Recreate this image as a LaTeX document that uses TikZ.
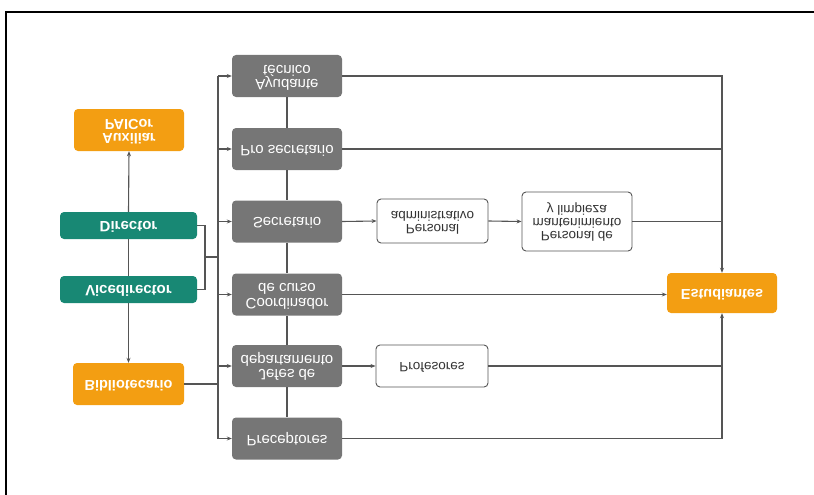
\documentclass[tikz,border=0pt]{standalone}
\usepackage{fontspec}
\setmainfont{Liberation Sans}
\usepackage{graphicx}
\usetikzlibrary{arrows.meta}
\definecolor{orng}{RGB}{243,158,18}
\definecolor{tealc}{RGB}{24,136,116}
\definecolor{grayb}{RGB}{118,118,118}
\definecolor{linec}{RGB}{85,85,85}
\newcommand{\fl}[1]{\scalebox{1}[-1]{\renewcommand{\arraystretch}{0.75}\begin{tabular}{@{}c@{}}#1\end{tabular}}}
\tikzset{
  bx/.style={rectangle, rounded corners=4pt, inner sep=0pt, align=center},
  orbox/.style={bx, fill=orng, text=white, font=\fontsize{14.5}{16}\selectfont\bfseries, minimum width=110pt, minimum height=42pt},
  tlbox/.style={bx, fill=tealc, text=white, font=\fontsize{15}{16}\selectfont\bfseries, minimum width=137pt, minimum height=27pt},
  grbox/.style={bx, fill=grayb, text=white, font=\fontsize{15}{17}\selectfont, minimum width=110pt, minimum height=42pt},
  whbox/.style={bx, fill=white, draw=linec, line width=0.9pt, text=black!80, font=\fontsize{13.5}{15}\selectfont, minimum width=111pt},
  ln/.style={draw=linec, line width=1.1pt},
  arr/.style={ln, -{Stealth[length=5pt,width=4pt]}}
}
\begin{document}
\begin{tikzpicture}[x=1pt,y=-1pt]
\useasboundingbox (0,0) rectangle (814,495);
\draw[line width=2pt] (6,495) -- (6,12) -- (814,12);
% left column
\node[orbox] (aux) at (129,130) {\fl{Auxiliar\\PAICor}};
\node[tlbox] (dir) at (128.5,225.5) {\fl{Director}};
\node[tlbox] (vice) at (128.5,289.5) {\fl{Vicedirector}};
\node[orbox, minimum width=111pt] (bib) at (128.5,384) {\fl{Bibliotecario}};
% gray column
\node[grbox] (g1) at (287,76) {\fl{Ayudante\\técnico}};
\node[grbox] (g2) at (287,149) {\fl{Pro secretario}};
\node[grbox] (g3) at (287,221.5) {\fl{Secretario}};
\node[grbox] (g4) at (287,294.5) {\fl{Coordinador\\de curso}};
\node[grbox] (g5) at (287,366) {\fl{Jefes de\\departamento}};
\node[grbox] (g6) at (287,438.5) {\fl{Preceptores}};
% white boxes
\node[whbox, minimum height=44pt] (padm) at (432.5,221) {\fl{Personal\\administrativo}};
\node[whbox, minimum width=110pt, minimum height=59pt] (pmant) at (577,221.5) {\fl{Personal de\\mantenimiento\\y limpieza}};
\node[whbox, minimum width=112pt, minimum height=42pt] (prof) at (432,366) {\fl{Profesores}};
\node[orbox, minimum height=40pt] (est) at (722,293) {\fl{Estudiantes}};
% coordinates
\coordinate (tt) at (218,76);
\coordinate (tb) at (218,438.5);
\coordinate (bj) at (205,257);
% left connectors
\draw[arr] (dir.north) -- (aux.south);
\draw[ln] (dir.south) -- (vice.north);
\draw[arr] (vice.south) -- (bib.north);
\draw[ln] (dir.east) -| (bj) |- (vice.east);
\draw[ln] (bj) -- (bj -| tt);
\draw[ln] (bib.east) -- (bib.east -| tt);
% trunk
\draw[ln] (tt) -- (tb);
\foreach \g in {g1,g2,g3,g4,g5,g6} {\draw[arr] (\g.west -| tt) -- (\g.west);}
% gray column spine
\draw[ln] (g1.south) -- (g2.north);
\draw[ln] (g2.south) -- (g3.north);
\draw[ln] (g3.south) -- (g4.north);
\draw[ln] (g4.south) -- (g5.north);
\draw[ln] (g5.south) -- (g6.north);
% right connectors
\draw[arr] (g3.east) -- (padm.west);
\draw[arr] (padm.east) -- (pmant.west);
\draw[arr] (g5.east) -- (prof.west);
\draw[arr] (g4.east) -- (g4.east -| est.west);
\draw[arr] (g1.east) -| (est.north);
\draw[arr] (g6.east) -| (est.south);
\draw[ln] (g2.east) -- (g2.east -| est.north);
\draw[ln] (pmant.east) -- (pmant.east -| est.north);
\draw[ln] (prof.east) -- (prof.east -| est.north);
\end{tikzpicture}
\end{document}
